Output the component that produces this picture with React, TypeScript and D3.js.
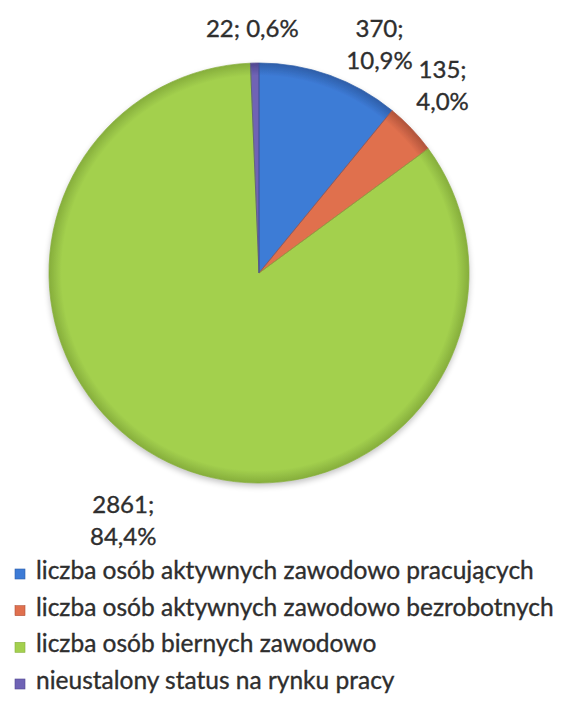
import React from "react";
import * as d3 from "d3";

const categories = [
  "liczba osób aktywnych zawodowo pracujących",
  "liczba osób aktywnych zawodowo bezrobotnych",
  "liczba osób biernych zawodowo",
  "nieustalony status na rynku pracy",
];
const values = [370, 135, 2861, 22];
const colors = ["#3D7BD6", "#E0704E", "#A3D04E", "#6F63B5"];
const darkColors = ["#2E5EA8", "#B0533A", "#86AE3C", "#514790"];

// layout of the data labels (angle shift in degrees from slice middle, radius in px)
const labelAngleShift = [8.2, -2.0, 3.0, -0.4];
const labelRadius = [258, 262, 283, 244];

const W = 563;
const H = 719;
const cx = 259;
const cy = 273;
const R = 210;
const FONT = "Lato, 'Open Sans', sans-serif";
const textColor = "#2e2e2e";

const fmtPct = (v: number) => d3.format(".1f")(v).replace(".", ",") + "%";

export default function App() {
  const total = d3.sum(values);
  const pie = d3
    .pie<number>()
    .sort(null)
    .startAngle(0)
    .endAngle(2 * Math.PI)
    .value((d) => d);
  const arcs = pie(values);
  const arc = d3.arc<d3.PieArcDatum<number>>().innerRadius(0).outerRadius(R);

  const legendY = d3
    .scalePoint<number>()
    .domain(d3.range(categories.length))
    .range([579, 689]);

  return (
    <svg
      width={W}
      height={H}
      style={{ position: "absolute", left: 0, top: 0, background: "#fff" }}
      fontFamily={FONT}
    >
      <defs>
        {colors.map((c, i) => (
          <radialGradient
            key={i}
            id={`g${i}`}
            gradientUnits="userSpaceOnUse"
            cx={0}
            cy={0}
            r={R}
          >
            <stop offset="0" stopColor={c} />
            <stop offset="0.94" stopColor={c} />
            <stop offset="1" stopColor={darkColors[i]} />
          </radialGradient>
        ))}
        <filter id="shadow" x="-20%" y="-20%" width="140%" height="140%">
          <feGaussianBlur in="SourceAlpha" stdDeviation="3" />
          <feOffset dx="0" dy="3" result="b" />
          <feComponentTransfer>
            <feFuncA type="linear" slope="0.25" />
          </feComponentTransfer>
          <feMerge>
            <feMergeNode />
            <feMergeNode in="SourceGraphic" />
          </feMerge>
        </filter>
      </defs>
      <g transform={`translate(${cx},${cy})`}>
        <g filter="url(#shadow)">
          {arcs.map((a, i) => (
            <path key={i} d={arc(a) || ""} fill={`url(#g${i})`} />
          ))}
        </g>
        {arcs.map((a, i) => (
          <path
            key={i}
            d={arc(a) || ""}
            fill="none"
            stroke={darkColors[i]}
            strokeOpacity={0.7}
            strokeWidth={1}
          />
        ))}
      </g>
      {arcs.map((a, i) => {
        const mid = (a.startAngle + a.endAngle) / 2 + (labelAngleShift[i] * Math.PI) / 180;
        const x = cx + labelRadius[i] * Math.sin(mid);
        const y = cy - labelRadius[i] * Math.cos(mid);
        const pct = fmtPct((values[i] / total) * 100);
        const twoLines = i !== 3;
        const lines = twoLines ? [`${values[i]};`, pct] : [`${values[i]}; ${pct}`];
        const lh = 32;
        const y0 = y - ((lines.length - 1) * lh) / 2 + 8;
        return (
          <text
            key={i}
            textAnchor="middle"
            fontSize={24}
            fill={textColor}
            stroke={textColor}
            strokeWidth={0.35}
          >
            {lines.map((l, j) => (
              <tspan key={j} x={x} y={y0 + j * lh}>
                {l}
              </tspan>
            ))}
          </text>
        );
      })}
      {categories.map((c, i) => (
        <g key={i} transform={`translate(0,${legendY(i)})`}>
          <rect x={15} y={-10} width={10} height={10} fill={colors[i]} stroke={darkColors[i]} strokeWidth={0.6} />
          <text
            x={36}
            y={0}
            fontSize={24.5}
            fill={textColor}
            stroke={textColor}
            strokeWidth={0.35}
          >
            {c}
          </text>
        </g>
      ))}
    </svg>
  );
}
